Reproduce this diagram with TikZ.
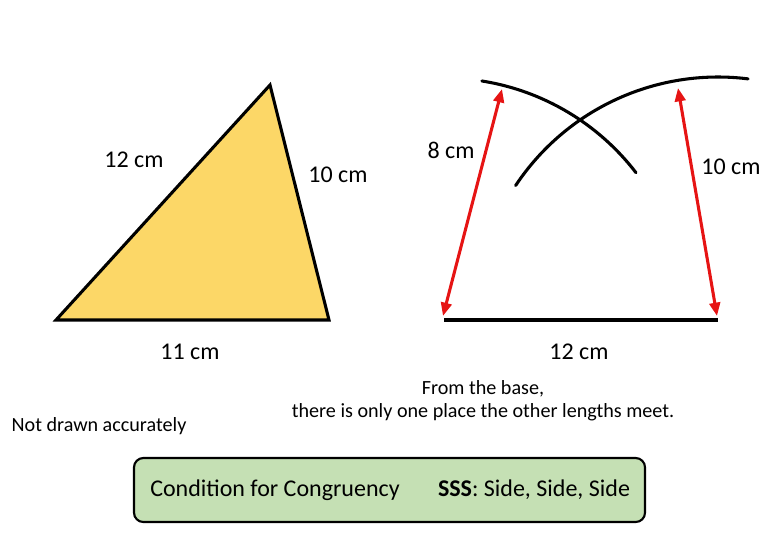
\documentclass[tikz,border=0pt]{standalone}
\usepackage{fontspec}
\setmainfont{Carlito}
\usetikzlibrary{arrows.meta}
\definecolor{triyellow}{RGB}{252,215,103}
\definecolor{boxgreen}{RGB}{197,224,180}
\definecolor{arrowred}{RGB}{230,20,20}

\begin{document}
\begin{tikzpicture}[x=0.75pt,y=0.75pt,yscale=-1,xscale=1,
    lbl/.style={inner sep=0.75pt,font=\fontsize{18}{21}\selectfont},
    note/.style={inner sep=0.75pt,font=\fontsize{15.1}{17.5}\selectfont,align=center},
    arcline/.style={line width=2.3pt,line cap=round},
    measure/.style={draw=arrowred,line width=2.3pt,{Triangle[length=10pt,width=8pt]}-{Triangle[length=10pt,width=8pt]}}]
\useasboundingbox (0,0) rectangle (780,540);

%Triangle
\coordinate (tA) at (56,320);
\coordinate (tB) at (329,320);
\coordinate (tC) at (270,85);
\draw [fill=triyellow, line width=2.3pt, line join=miter] (tA) -- (tB) -- (tC) -- cycle ;

%Base and arcs
\coordinate (bL) at (444,320);
\coordinate (bR) at (718,320);
\draw [line width=2.3pt] (bL) -- (bR) ;
\draw [arcline] (bL) ++(-81:242) arc [start angle=-81, end angle=-37.5, radius=242] ;
\draw [arcline] (bR) ++(-146.4:243) arc [start angle=-146.4, end angle=-82.9, radius=243] ;

%Red arrows
\coordinate (mLb) at (443,316);
\coordinate (mLt) at (502,89);
\coordinate (mRt) at (678,88);
\coordinate (mRb) at (717,316);
\draw [measure] (mLb) -- (mLt) ;
\draw [measure] (mRt) -- (mRb) ;

% Text Node
\node [lbl] (tri12) at (134,160) {12 cm};
% Text Node
\node [lbl] (tri10) at (338,175) {10 cm};
% Text Node
\node [lbl] (tri11) at (190,352) {11 cm};
% Text Node
\node [lbl] (arc8) at (451,150) {8 cm};
% Text Node
\node [lbl] (arc10) at (731,167) {10 cm};
% Text Node
\node [lbl] (base12) at (579,352) {12 cm};
% Text Node
\node [note] (meet) at (483,401) {From the base,\\there is only one place the other lengths meet.};
% Text Node
\node [note] (accur) at (99,426) {Not drawn accurately};

%Condition box
\node [draw, fill=boxgreen, line width=1.6pt, rounded corners=7pt, minimum width=511*0.75pt, minimum height=64*0.75pt, inner sep=0pt] (cond) at (389.5,490) {};
% Text Node
\node [lbl] (condtxt) at (275,490) {Condition for Congruency};
% Text Node
\node [lbl] (ssstxt) at (534,490) {\textbf{SSS}: Side, Side, Side};

\end{tikzpicture}
\end{document}
